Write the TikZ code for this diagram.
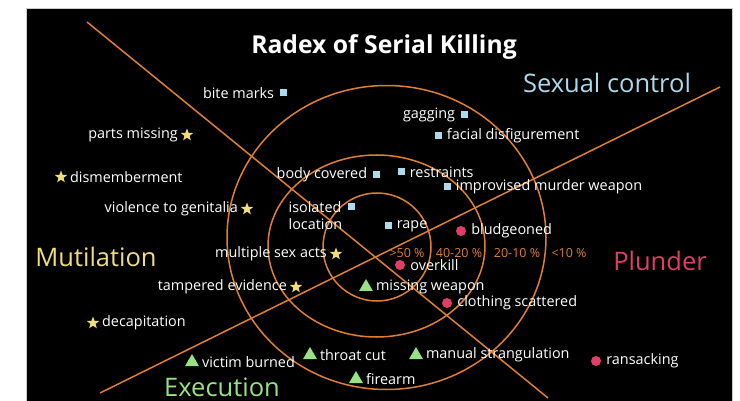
\documentclass[tikz,border=0pt]{standalone}
\usepackage{fontspec}
\setmainfont{Open Sans}
\usetikzlibrary{shapes.geometric,positioning}
\definecolor{radexorange}{RGB}{222,128,48}
\definecolor{sexblue}{RGB}{170,218,236}
\definecolor{mutyellow}{RGB}{240,222,120}
\definecolor{plunred}{RGB}{222,62,104}
\definecolor{exegreen}{RGB}{152,226,132}

\begin{document}
\begin{tikzpicture}[x=1pt,y=-1pt,node distance=5pt,
    ring/.style={draw=radexorange,line width=1.5pt},
    item/.style={text=white,font=\fontsize{14.4}{17}\selectfont,inner sep=0pt},
    sq node/.style={rectangle,fill=sexblue,minimum size=7pt,inner sep=0pt},
    star node/.style={star,star points=5,star point ratio=2.4,fill=mutyellow,minimum size=13pt,inner sep=0pt},
    dot node/.style={circle,fill=plunred,minimum size=10pt,inner sep=0pt},
    tri node/.style={regular polygon,regular polygon sides=3,fill=exegreen,minimum size=16pt,inner sep=0pt},
    zone/.style={anchor=base,inner sep=0pt,font=\fontsize{25.5}{30}\selectfont},
    pct/.style={text=radexorange,font=\fontsize{12.5}{15}\selectfont,inner sep=0pt}]

  \useasboundingbox (0,0) rectangle (740,401);
  \fill[white] (0,0) rectangle (740,401);
  \fill[black,draw=gray!40] (26,8) rectangle (732,401);

  \coordinate (l1a) at (87,22);
  \coordinate (l1b) at (548,398);
  \coordinate (l2a) at (100,393);
  \coordinate (l2b) at (720,87);
  \draw[ring] (377,247) circle (54);
  \draw[ring] (376.5,246) ellipse [x radius=108.5,y radius=91];
  \draw[ring] (386.5,237.5) ellipse [x radius=159.5,y radius=152];
  \draw[ring] (l1a) -- (l1b);
  \draw[ring] (l2a) -- (l2b);

  \node[anchor=base,text=white,font=\fontsize{24.7}{29}\selectfont\bfseries] (title) at (384,54) {Radex of Serial Killing};
  \node[zone,text=sexblue] (sexual) at (607,93) {Sexual control};
  \node[zone,text=mutyellow] (mutil) at (96,267) {Mutilation};
  \node[zone,text=plunred] (plunder) at (660,270) {Plunder};
  \node[zone,text=exegreen] (exec) at (222,396) {Execution};

  \node[pct] (p50) at (407,253) {>50 \%};
  \node[pct] (p40) at (459,253) {40-20 \%};
  \node[pct] (p20) at (517,253) {20-10 \%};
  \node[pct] (p10) at (569,253) {<10 \%};

  \node[sq node] (bite) at (283,93) {};
  \node[item] (bite-t) [left=of bite] {bite marks};
  \node[sq node] (gag) at (464,115) {};
  \node[item] (gag-t) [left=of gag] {gagging};
  \node[sq node] (facial) at (438,136) {};
  \node[item] (facial-t) [right=of facial] {facial disfigurement};
  \node[sq node] (body) at (376,175) {};
  \node[item] (body-t) [left=of body] {body covered};
  \node[sq node] (restr) at (401,172) {};
  \node[item] (restr-t) [right=of restr] {restraints};
  \node[sq node] (improv) at (447,187) {};
  \node[item] (improv-t) [right=of improv] {improvised murder weapon};
  \node[sq node] (iso) at (351,207) {};
  \node[item,align=left] (iso-t) [left=of iso,yshift=-9pt] {isolated\\location};
  \node[sq node] (rape) at (388,226) {};
  \node[item] (rape-t) [right=of rape] {rape};

  \node[star node] (parts) at (187,135) {};
  \node[item] (parts-t) [left=of parts] {parts missing};
  \node[star node] (dismem) at (61,177) {};
  \node[item] (dismem-t) [right=of dismem] {dismemberment};
  \node[star node] (viol) at (247,209) {};
  \node[item] (viol-t) [left=of viol] {violence to genitalia};
  \node[star node] (multi) at (336,254) {};
  \node[item] (multi-t) [left=of multi] {multiple sex acts};
  \node[star node] (tamp) at (296,287) {};
  \node[item] (tamp-t) [left=of tamp] {tampered evidence};
  \node[star node] (decap) at (93,323) {};
  \node[item] (decap-t) [right=of decap] {decapitation};

  \node[dot node] (bludg) at (461,231) {};
  \node[item] (bludg-t) [right=of bludg] {bludgeoned};
  \node[dot node] (over) at (400,265) {};
  \node[item] (over-t) [right=of over] {overkill};
  \node[dot node] (cloth) at (447,303) {};
  \node[item] (cloth-t) [right=of cloth] {clothing scattered};
  \node[dot node] (ransack) at (596,361) {};
  \node[item] (ransack-t) [right=of ransack] {ransacking};

  \node[tri node] (missw) at (366,287) {};
  \node[item] (missw-t) [right=of missw] {missing weapon};
  \node[tri node] (burn) at (192,362) {};
  \node[item] (burn-t) [right=of burn] {victim burned};
  \node[tri node] (throat) at (310,355) {};
  \node[item] (throat-t) [right=of throat] {throat cut};
  \node[tri node] (manual) at (416,355) {};
  \node[item] (manual-t) [right=of manual] {manual strangulation};
  \node[tri node] (fire) at (356,379) {};
  \node[item] (fire-t) [right=of fire] {firearm};
\end{tikzpicture}
\end{document}
